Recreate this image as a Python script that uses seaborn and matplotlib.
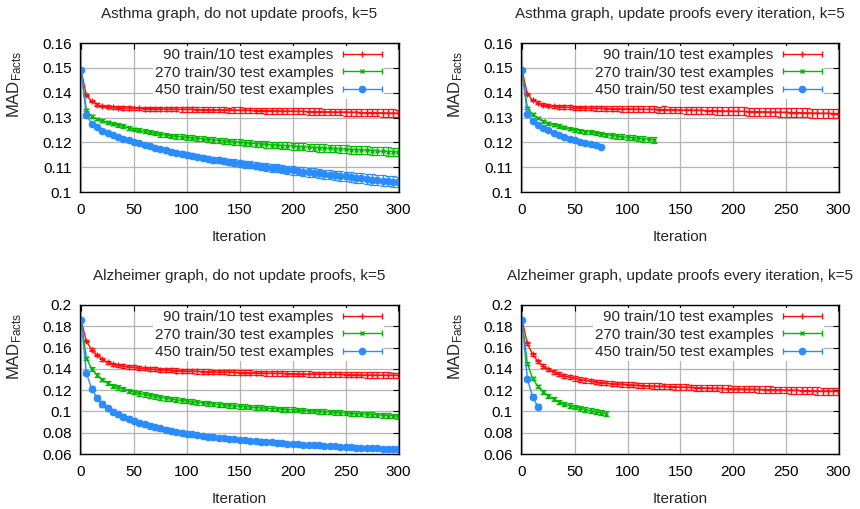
import numpy as np
import matplotlib
matplotlib.use("Agg")
import matplotlib.pyplot as plt
import seaborn as sns
from matplotlib.lines import Line2D
from matplotlib.legend_handler import HandlerBase

# Pontos registrados a cada 5 iteracoes (0, 5, 10, ...)
ITER_STEP = 5

SERIES_LABELS = ["90 train/10 test examples",
                 "270 train/30 test examples",
                 "450 train/50 test examples"]

PANEL_TITLES = ["Asthma graph, do not update proofs, k=5",
                "Asthma graph, update proofs every iteration, k=5",
                "Alzheimer graph, do not update proofs, k=5",
                "Alzheimer graph, update proofs every iteration, k=5"]

ASTHMA_YTICKS = [0.10, 0.11, 0.12, 0.13, 0.14, 0.15, 0.16]
ALZ_YTICKS = [0.06, 0.08, 0.10, 0.12, 0.14, 0.16, 0.18, 0.20]
XTICKS = [0, 50, 100, 150, 200, 250, 300]

# ---- Asthma, do not update proofs ----
ASTHMA_FIXED_90 = [
    0.149, 0.1390, 0.1365, 0.1352, 0.1346, 0.1343, 0.1341, 0.1340, 0.1339, 0.1338, 0.1337,
    0.1337, 0.1336, 0.1336, 0.1335, 0.1335, 0.1334, 0.1334, 0.1334, 0.1333, 0.1333,
    0.1333, 0.1332, 0.1332, 0.1332, 0.1331, 0.1331, 0.1331, 0.1330, 0.1330, 0.1330,
    0.1329, 0.1329, 0.1328, 0.1328, 0.1328, 0.1327, 0.1327, 0.1326, 0.1326, 0.1326,
    0.1325, 0.1325, 0.1324, 0.1324, 0.1324, 0.1323, 0.1323, 0.1322, 0.1322, 0.1322,
    0.1321, 0.1321, 0.1320, 0.1320, 0.1320, 0.1319, 0.1319, 0.1318, 0.1318, 0.1317]
ASTHMA_FIXED_270 = [
    0.149, 0.1330, 0.1305, 0.1293, 0.1286, 0.1280, 0.1275, 0.1270, 0.1265, 0.1258, 0.1252,
    0.1248, 0.1244, 0.1240, 0.1236, 0.1232, 0.1229, 0.1226, 0.1224, 0.1222, 0.1220,
    0.1218, 0.1216, 0.1214, 0.1212, 0.1210, 0.1208, 0.1206, 0.1204, 0.1202, 0.1200,
    0.1198, 0.1196, 0.1195, 0.1193, 0.1192, 0.1190, 0.1189, 0.1187, 0.1186, 0.1185,
    0.1183, 0.1182, 0.1181, 0.1179, 0.1178, 0.1177, 0.1176, 0.1175, 0.1174, 0.1172,
    0.1171, 0.1170, 0.1169, 0.1168, 0.1167, 0.1165, 0.1164, 0.1163, 0.1162, 0.1160]
ASTHMA_FIXED_450 = [
    0.149, 0.1310, 0.1275, 0.1260, 0.1247, 0.1238, 0.1230, 0.1222, 0.1215, 0.1208, 0.1202,
    0.1196, 0.1190, 0.1184, 0.1179, 0.1174, 0.1168, 0.1163, 0.1158, 0.1154, 0.1150,
    0.1146, 0.1142, 0.1138, 0.1134, 0.1130, 0.1127, 0.1124, 0.1121, 0.1118, 0.1115,
    0.1112, 0.1109, 0.1106, 0.1103, 0.1100, 0.1097, 0.1095, 0.1092, 0.1089, 0.1087,
    0.1084, 0.1082, 0.1079, 0.1077, 0.1075, 0.1072, 0.1070, 0.1067, 0.1065, 0.1063,
    0.1060, 0.1058, 0.1055, 0.1053, 0.1050, 0.1048, 0.1046, 0.1044, 0.1042, 0.1040]
# barras de erro (meia altura) em unidades de 1e-4
ASTHMA_FIXED_90_ERR = [
    0, 3, 4, 5, 5, 6, 6, 6, 7, 7, 7, 7, 8, 8, 8, 8, 8, 9, 9, 9, 9, 9, 9, 10, 10, 10,
    10, 10, 10, 11, 11, 11, 11, 11, 11, 12, 12, 12, 12, 12, 12, 12, 12, 13, 13, 13,
    13, 13, 13, 13, 14, 14, 14, 14, 14, 14, 14, 15, 15, 15, 15]
ASTHMA_FIXED_270_ERR = [
    0, 4, 5, 5, 6, 6, 6, 7, 7, 7, 7, 8, 8, 8, 8, 9, 9, 9, 9, 10, 10, 10, 10, 10, 11, 11,
    11, 11, 11, 12, 12, 12, 12, 12, 13, 13, 13, 13, 13, 14, 14, 14, 14, 14, 15, 15,
    15, 15, 15, 15, 16, 16, 16, 16, 16, 16, 17, 17, 17, 17, 17]
ASTHMA_FIXED_450_ERR = [
    0, 3, 4, 4, 5, 5, 5, 6, 6, 6, 7, 7, 7, 8, 8, 8, 9, 9, 9, 10, 10, 10, 11, 11, 11, 12,
    12, 12, 13, 13, 13, 14, 14, 14, 15, 15, 15, 16, 16, 16, 17, 17, 17, 18, 18, 18,
    18, 19, 19, 19, 19, 20, 20, 20, 20, 21, 21, 21, 21, 21, 21]

# ---- Asthma, update proofs every iteration ----
ASTHMA_UPDATE_90 = [
    0.149, 0.1395, 0.1370, 0.1360, 0.1352, 0.1347, 0.1345, 0.1343, 0.1342, 0.1341, 0.1340,
    0.1339, 0.1338, 0.1338, 0.1337, 0.1337, 0.1336, 0.1336, 0.1335, 0.1335, 0.1335,
    0.1334, 0.1334, 0.1333, 0.1333, 0.1333, 0.1332, 0.1332, 0.1331, 0.1331, 0.1330,
    0.1330, 0.1330, 0.1329, 0.1329, 0.1328, 0.1328, 0.1327, 0.1327, 0.1326, 0.1326,
    0.1325, 0.1325, 0.1324, 0.1324, 0.1323, 0.1323, 0.1322, 0.1322, 0.1321, 0.1321,
    0.1320, 0.1320, 0.1319, 0.1319, 0.1318, 0.1318, 0.1317, 0.1317, 0.1316, 0.1316]
ASTHMA_UPDATE_270 = [
    0.149, 0.1340, 0.1313, 0.1297, 0.1285, 0.1277, 0.1270, 0.1265, 0.1260, 0.1255, 0.1250,
    0.1247, 0.1243, 0.1240, 0.1237, 0.1233, 0.1230, 0.1228, 0.1225, 0.1222, 0.1220,
    0.1218, 0.1216, 0.1214, 0.1212, 0.1210]
ASTHMA_UPDATE_450 = [
    0.149, 0.1313, 0.1285, 0.1270, 0.1258, 0.1248, 0.1238, 0.1230, 0.1222, 0.1215, 0.1208,
    0.1202, 0.1197, 0.1192, 0.1188, 0.1183]
ASTHMA_UPDATE_90_ERR = [
    0, 4, 5, 5, 6, 6, 7, 7, 7, 8, 8, 8, 9, 9, 9, 10, 10, 10, 10, 11, 11, 11, 11, 12, 12, 12,
    12, 13, 13, 13, 13, 14, 14, 14, 14, 14, 15, 15, 15, 15, 15, 16, 16, 16, 16, 16,
    17, 17, 17, 17, 17, 18, 18, 18, 18, 18, 18, 19, 19, 19, 19]
ASTHMA_UPDATE_270_ERR = [
    0, 4, 5, 5, 6, 6, 6, 7, 7, 7, 8, 8, 8, 8, 9, 9, 9, 9, 10, 10, 10, 10, 10, 11, 11, 11]
ASTHMA_UPDATE_450_ERR = [0, 3, 4, 4, 4, 5, 5, 5, 5, 6, 6, 6, 6, 6, 7, 7]

# ---- Alzheimer, do not update proofs ----
ALZ_FIXED_90 = [
    0.186, 0.1660, 0.1580, 0.1530, 0.1490, 0.1460, 0.1443, 0.1432, 0.1425, 0.1419, 0.1414,
    0.1409, 0.1404, 0.1400, 0.1396, 0.1392, 0.1389, 0.1386, 0.1384, 0.1382, 0.1380,
    0.1378, 0.1376, 0.1375, 0.1373, 0.1372, 0.1370, 0.1369, 0.1368, 0.1366, 0.1365,
    0.1364, 0.1363, 0.1362, 0.1361, 0.1360, 0.1359, 0.1358, 0.1357, 0.1356, 0.1355,
    0.1354, 0.1353, 0.1352, 0.1351, 0.1350, 0.1349, 0.1348, 0.1347, 0.1347, 0.1346,
    0.1345, 0.1344, 0.1344, 0.1343, 0.1342, 0.1341, 0.1341, 0.1340, 0.1339, 0.1339]
ALZ_FIXED_270 = [
    0.186, 0.1500, 0.1400, 0.1340, 0.1300, 0.1265, 0.1240, 0.1225, 0.1210, 0.1195, 0.1182,
    0.1170, 0.1160, 0.1150, 0.1141, 0.1132, 0.1124, 0.1117, 0.1110, 0.1103, 0.1097,
    0.1091, 0.1085, 0.1080, 0.1075, 0.1070, 0.1065, 0.1061, 0.1057, 0.1053, 0.1049,
    0.1045, 0.1041, 0.1037, 0.1034, 0.1030, 0.1027, 0.1024, 0.1021, 0.1018, 0.1015,
    0.1012, 0.1009, 0.1006, 0.1003, 0.1000, 0.0997, 0.0994, 0.0991, 0.0988, 0.0985,
    0.0982, 0.0979, 0.0976, 0.0973, 0.0970, 0.0967, 0.0964, 0.0961, 0.0958, 0.0955]
ALZ_FIXED_450 = [
    0.186, 0.1360, 0.1215, 0.1130, 0.1070, 0.1030, 0.0998, 0.0972, 0.0950, 0.0930, 0.0913,
    0.0895, 0.0879, 0.0865, 0.0852, 0.0840, 0.0829, 0.0819, 0.0809, 0.0800, 0.0792,
    0.0784, 0.0777, 0.0770, 0.0764, 0.0758, 0.0752, 0.0747, 0.0742, 0.0738, 0.0734,
    0.0729, 0.0725, 0.0721, 0.0717, 0.0713, 0.0709, 0.0705, 0.0701, 0.0698, 0.0695,
    0.0692, 0.0689, 0.0686, 0.0683, 0.0680, 0.0677, 0.0674, 0.0671, 0.0668, 0.0665,
    0.0663, 0.0661, 0.0659, 0.0657, 0.0655, 0.0653, 0.0651, 0.0650, 0.0648, 0.0647]
ALZ_FIXED_90_ERR = [
    0, 10, 12, 13, 14, 15, 16, 16, 17, 17, 18, 18, 18, 19, 19, 19, 19, 20, 20, 20, 20,
    20, 21, 21, 21, 21, 21, 21, 22, 22, 22, 22, 22, 22, 23, 23, 23, 23, 23, 23, 23,
    24, 24, 24, 24, 24, 24, 24, 24, 25, 25, 25, 25, 25, 25, 25, 25, 25, 26, 26, 26]
ALZ_FIXED_270_ERR = [
    0, 14, 16, 17, 18, 19, 19, 20, 20, 20, 21, 21, 21, 21, 21, 22, 22, 22, 22, 22, 22,
    22, 22, 22, 22, 22, 22, 22, 21, 22, 22, 22, 22, 22, 22, 21, 22, 22, 22, 22, 22,
    22, 22, 21, 22, 22, 22, 22, 22, 22, 22, 22, 22, 21, 22, 22, 22, 22, 22, 22, 22]
ALZ_FIXED_450_ERR = [
    0, 20, 22, 23, 24, 24, 24, 24, 23, 23, 23, 23, 22, 22, 22, 22, 22, 21, 21, 21, 21,
    21, 21, 21, 20, 20, 20, 20, 20, 20, 20, 20, 20, 20, 20, 20, 19, 19, 19, 19, 19,
    19, 19, 19, 19, 19, 19, 19, 19, 19, 19, 19, 19, 19, 19, 19, 19, 19, 19, 19, 19]

# ---- Alzheimer, update proofs every iteration ----
ALZ_UPDATE_90 = [
    0.186, 0.1640, 0.1535, 0.1470, 0.1425, 0.1395, 0.1370, 0.1350, 0.1335, 0.1322, 0.1310,
    0.1300, 0.1291, 0.1284, 0.1277, 0.1271, 0.1266, 0.1262, 0.1258, 0.1255, 0.1252,
    0.1249, 0.1246, 0.1243, 0.1241, 0.1239, 0.1237, 0.1235, 0.1233, 0.1231, 0.1229,
    0.1227, 0.1225, 0.1224, 0.1222, 0.1221, 0.1219, 0.1218, 0.1216, 0.1215, 0.1213,
    0.1212, 0.1211, 0.1209, 0.1208, 0.1207, 0.1205, 0.1204, 0.1203, 0.1202, 0.1200,
    0.1199, 0.1198, 0.1196, 0.1195, 0.1194, 0.1192, 0.1191, 0.1190, 0.1189, 0.1188]
ALZ_UPDATE_270 = [
    0.186, 0.1450, 0.1310, 0.1235, 0.1185, 0.1145, 0.1115, 0.1090, 0.1070, 0.1055, 0.1042,
    0.1030, 0.1018, 0.1007, 0.0997, 0.0988, 0.0978]
ALZ_UPDATE_450 = [0.186, 0.1305, 0.1140, 0.1045]
ALZ_UPDATE_90_ERR = [
    0, 12, 14, 15, 16, 17, 18, 18, 19, 19, 20, 20, 21, 21, 22, 22, 22, 23, 23, 23, 24,
    24, 24, 25, 25, 25, 26, 26, 26, 26, 27, 27, 27, 28, 28, 28, 28, 29, 29, 29, 29,
    30, 30, 30, 30, 30, 31, 31, 31, 31, 31, 32, 32, 32, 32, 32, 33, 33, 33, 33, 34]
ALZ_UPDATE_270_ERR = [0, 15, 17, 18, 19, 20, 20, 21, 21, 21, 22, 22, 22, 22, 23, 23, 23]
ALZ_UPDATE_450_ERR = [0, 20, 22, 22]

# Estilo gnuplot: vermelho, verde, azul
COLORS = ["#ff1010", "#00bb00", "#2a8cff"]
MARKERS = ["+", "x", "o"]
MARKER_SIZES = [4.0, 3.5, 4.5]

sns.set_theme(style="white")
plt.rcParams.update({
    "font.family": ["Liberation Sans", "DejaVu Sans"],
    "font.size": 11,
    "mathtext.fontset": "custom",
    "mathtext.rm": "Liberation Sans",
    "mathtext.it": "Liberation Sans:italic",
    "axes.edgecolor": "black",
    "axes.linewidth": 1.0,
})


class ErrorKey(HandlerBase):
    # amostra da legenda no estilo gnuplot: linha com hastes nas pontas e marcador no meio
    def create_artists(self, legend, orig, xdescent, ydescent, width, height,
                       fontsize, trans):
        y = height / 2 - ydescent
        x0, x1 = -xdescent, width - xdescent
        c = orig.get_color()
        bar = Line2D([x0, x1], [y, y], color=c, lw=1.0, transform=trans)
        caps = Line2D([x0, x1], [y, y], ls="none", marker="|", ms=5, mew=1.0,
                      color=c, transform=trans)
        mid = Line2D([(x0 + x1) / 2], [y], ls="none", marker=orig.get_marker(),
                     ms=orig.get_markersize(), mew=1.0, color=c, mec=c,
                     transform=trans)
        return [bar, caps, mid]


panels = [
    (PANEL_TITLES[0], [ASTHMA_FIXED_90, ASTHMA_FIXED_270, ASTHMA_FIXED_450],
     [ASTHMA_FIXED_90_ERR, ASTHMA_FIXED_270_ERR, ASTHMA_FIXED_450_ERR], ASTHMA_YTICKS),
    (PANEL_TITLES[1], [ASTHMA_UPDATE_90, ASTHMA_UPDATE_270, ASTHMA_UPDATE_450],
     [ASTHMA_UPDATE_90_ERR, ASTHMA_UPDATE_270_ERR, ASTHMA_UPDATE_450_ERR], ASTHMA_YTICKS),
    (PANEL_TITLES[2], [ALZ_FIXED_90, ALZ_FIXED_270, ALZ_FIXED_450],
     [ALZ_FIXED_90_ERR, ALZ_FIXED_270_ERR, ALZ_FIXED_450_ERR], ALZ_YTICKS),
    (PANEL_TITLES[3], [ALZ_UPDATE_90, ALZ_UPDATE_270, ALZ_UPDATE_450],
     [ALZ_UPDATE_90_ERR, ALZ_UPDATE_270_ERR, ALZ_UPDATE_450_ERR], ALZ_YTICKS),
]

# posicoes dos eixos em fracao da figura (860x509 px)
W, H = 860.0, 509.0
boxes = [
    [80 / W, 1 - 192 / H, 319 / W, 149 / H],
    [521 / W, 1 - 192 / H, 318 / W, 149 / H],
    [80 / W, 1 - 454 / H, 319 / W, 149 / H],
    [521 / W, 1 - 454 / H, 318 / W, 149 / H],
]

fig = plt.figure(figsize=(8.6, 5.09), dpi=100)

for box, (title, series, errs, yticks) in zip(boxes, panels):
    ax = fig.add_axes(box)
    ax.set_axisbelow(True)
    ax.grid(True, color="#b4b4b4", lw=0.9)

    for i, (vals, err) in enumerate(zip(series, errs)):
        xs = ITER_STEP * np.arange(len(vals))
        yerr = np.array(err) * 1e-4
        ax.errorbar(xs, vals, yerr=yerr, fmt="none", ecolor=COLORS[i],
                    elinewidth=0.9, capsize=2.0, capthick=0.9, zorder=2 + i)
        sns.lineplot(x=xs, y=vals, color=COLORS[i], marker=MARKERS[i],
                     markersize=MARKER_SIZES[i], markeredgecolor=COLORS[i],
                     markeredgewidth=1.0, lw=1.0, ax=ax, legend=False,
                     zorder=2 + i)

    ax.set_xlim(-1, 300.5)
    ax.set_ylim(yticks[0], yticks[-1])
    ax.set_xticks(XTICKS)
    ax.set_yticks(yticks)
    ax.set_yticklabels([f"{t:g}" for t in yticks])
    ax.tick_params(direction="in", top=True, right=True, length=4, width=0.8,
                   colors="black", labelsize=11)
    ax.tick_params(axis="x", pad=8)
    ax.tick_params(axis="y", pad=6)
    for sp in ax.spines.values():
        sp.set_visible(True)
        sp.set_color("black")
        sp.set_linewidth(1.0)
        sp.set_zorder(20)

    ax.set_title(title, fontsize=11, pad=18)
    ax.set_xlabel("Iteration", fontsize=11, labelpad=9)
    ax.set_ylabel("")
    ax.text(-0.205, 0.5, "MAD$_{\\mathrm{Facts}}$", transform=ax.transAxes,
            rotation=90, ha="center", va="bottom", fontsize=12)

    handles = [Line2D([], [], color=COLORS[i], marker=MARKERS[i],
                      markersize=MARKER_SIZES[i]) for i in range(3)]
    leg = ax.legend(handles, SERIES_LABELS, loc="upper right",
                    bbox_to_anchor=(1 - 15 / 319, 1 - 3 / 149), markerfirst=False,
                    frameon=True, facecolor="white", edgecolor="none",
                    framealpha=1.0, fancybox=False, borderpad=0.15,
                    borderaxespad=0.0, handlelength=2.55, handletextpad=0.6,
                    labelspacing=0.22, fontsize=11,
                    handler_map={Line2D: ErrorKey()})
    leg.set_zorder(10)

fig.savefig("out.png", dpi=100)
